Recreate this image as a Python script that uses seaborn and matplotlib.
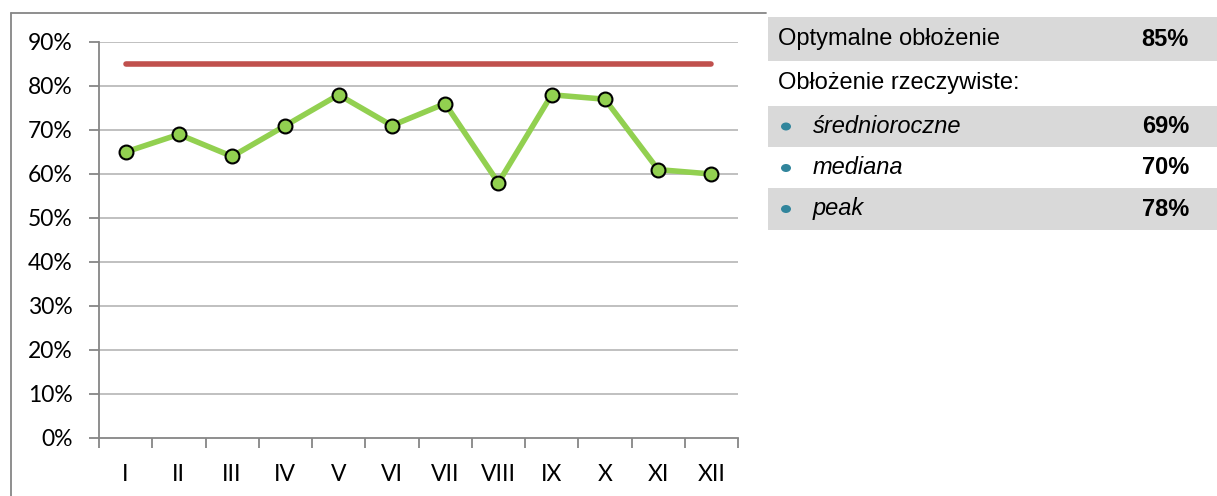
import numpy as np
import pandas as pd
import seaborn as sns
import matplotlib.pyplot as plt
from matplotlib.patches import Rectangle, Ellipse
from matplotlib.lines import Line2D

# Monthly occupancy (obłożenie) vs optimal level
months = ['I', 'II', 'III', 'IV', 'V', 'VI', 'VII', 'VIII', 'IX', 'X', 'XI', 'XII']
occupancy = [65, 69, 64, 71, 78, 71, 76, 58, 78, 77, 61, 60]
optimal = [85] * 12

table_labels = ['Optymalne obłożenie', 'Obłożenie rzeczywiste:', 'średnioroczne', 'mediana', 'peak']
table_values = ['85%', '', '69%', '70%', '78%']

sns.set_style('white')
plt.rcParams['font.family'] = ['Lato', 'DejaVu Sans']
plt.rcParams['text.color'] = 'black'
plt.rcParams['xtick.color'] = 'black'
plt.rcParams['ytick.color'] = 'black'

W, H = 1217, 496
fig = plt.figure(figsize=(W / 100, H / 100), dpi=100)

# px helpers (top-left origin)
def fx(px):
    return px / W


def fy(py):
    return 1 - py / H


ax = fig.add_axes([fx(99), fy(438), fx(738) - fx(99), fy(42) - fy(438)])

df = pd.DataFrame({'pos': np.arange(len(months)), 'month': months,
                   'occ': occupancy, 'opt': optimal})

for v in range(10, 100, 10):
    ax.axhline(v, color='#C0C0C0', lw=1.4, zorder=0)

sns.lineplot(data=df, x='pos', y='opt', ax=ax, color='#C0504D', lw=4,
             solid_capstyle='round', zorder=2)
sns.lineplot(data=df, x='pos', y='occ', ax=ax, color='#92D050', lw=4,
             marker='o', markersize=10, markerfacecolor='#92D050',
             markeredgecolor='black', markeredgewidth=1.5, zorder=3)

ax.set_xlim(-0.5, 11.5)
ax.set_ylim(0, 90)
ax.set_xlabel('')
ax.set_ylabel('')
ax.set_yticks(range(0, 100, 10))
ax.set_yticklabels([f'{v}%' for v in range(0, 100, 10)])
ax.set_xticks(df['pos'])
ax.set_xticklabels(months)
ax.set_xticks(np.arange(-0.5, 12, 1), minor=True)
ax.tick_params(axis='x', which='major', length=0, pad=19, labelsize=16.5, labelcolor='black')
ax.tick_params(axis='x', which='minor', length=7, width=1.3, color='#868686', direction='out')
ax.tick_params(axis='y', length=7, width=1.3, color='#868686', direction='out', pad=12,
               labelsize=16.5, labelcolor='black')
ax.tick_params(bottom=True, left=True, which='both')
for s in ['top', 'right']:
    ax.spines[s].set_visible(False)
for s in ['left', 'bottom']:
    ax.spines[s].set_color('#868686')
    ax.spines[s].set_linewidth(1.3)

# chart frame (cropped)
fig.add_artist(Line2D([fx(11), fx(11)], [fy(13), 0], color='#868686', lw=1.3))
fig.add_artist(Line2D([fx(11), fx(766)], [fy(13), fy(13)], color='#868686', lw=1.3))

# side table
rows = [(17, 61, True), (61, 106, False), (106, 147, True), (147, 189, False), (188, 230, True)]
txt_font = ['Liberation Sans', 'DejaVu Sans']
for i, (top, bot, shaded) in enumerate(rows):
    if shaded:
        fig.add_artist(Rectangle((fx(768), fy(bot)), 1 - fx(768), fy(top) - fy(bot),
                                 facecolor='#D9D9D9', edgecolor='none'))
    yc = fy((top + bot) / 2)
    if i >= 2:
        fig.add_artist(Ellipse((fx(786), yc), fx(10), 8 / H,
                               facecolor='#31859C', edgecolor='none'))
        fig.text(fx(813), yc, table_labels[i], ha='left', va='center', fontsize=17,
                 style='italic', family=txt_font, color='black')
    else:
        fig.text(fx(778), yc, table_labels[i], ha='left', va='center', fontsize=17,
                 family=txt_font, color='black')
    if table_values[i]:
        fig.text(fx(1189), yc, table_values[i], ha='right', va='center', fontsize=17,
                 weight='bold', family=txt_font, color='black')

fig.savefig('out.png', dpi=100)
